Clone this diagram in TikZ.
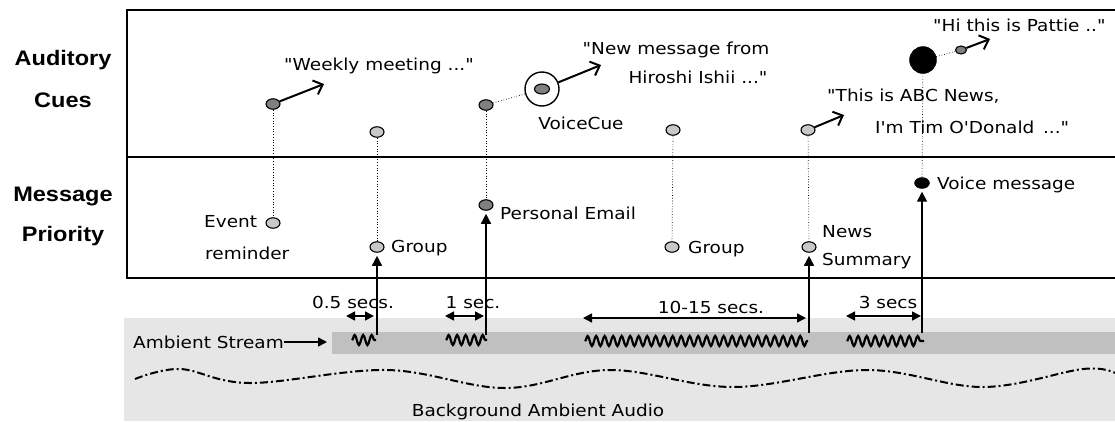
\documentclass[tikz,border=0pt]{standalone}
\usepackage{fontspec}
\setmainfont{DejaVu Sans}
\newfontfamily\comic[FakeStretch=1.12]{DejaVu Sans}
\newfontfamily\sidefont[FakeStretch=1.12]{Liberation Sans}
\usetikzlibrary{shapes.geometric,arrows.meta,decorations.pathmorphing}
\definecolor{bggray}{HTML}{E6E6E6}
\definecolor{streamgray}{HTML}{C0C0C0}
\definecolor{lightdot}{HTML}{C8C8C8}
\definecolor{darkdot}{HTML}{808080}
\begin{document}
\begin{tikzpicture}[x=1pt,y=-1pt,
  txt/.style={font=\comic\fontsize{16.5}{19}\selectfont, inner sep=0pt},
  side/.style={font=\sidefont\bfseries\fontsize{21}{24}\selectfont, inner sep=0pt},
  dotc/.style={ellipse, draw, line width=1.1pt, minimum width=14pt, minimum height=10.5pt, inner sep=0pt},
  darkc/.style={dotc, fill=darkdot},
  lightc/.style={dotc, fill=lightdot},
  cue/.style={line width=2pt, -{Straight Barb[length=8pt,width=15pt,line width=2pt]}},
  dots/.style={dotted, line width=0.7pt},
  uparrow/.style={line width=1.5pt, shorten >=3pt, -{Triangle[length=10pt,width=10pt]}},
  dur/.style={line width=1.5pt, {Triangle[length=9pt,width=9pt]}-{Triangle[length=9pt,width=9pt]}},
  wave/.style={line width=2.2pt, decorate, decoration={snake, segment length=8.5pt, amplitude=5pt}},
  boxline/.style={line width=1.8pt}
]
\useasboundingbox (0,0) rectangle (1115,421);

% background bands
\fill[bggray] (124,318) rectangle (1115,421);
\fill[streamgray] (332,332) rectangle (1115,354);

% main box
\draw[boxline] (1117,10) -- (127,10) -- (127,278) -- (1117,278);
\draw[boxline] (127,157) -- (1117,157);

% side labels
\node[side] (lab1) at (63,60) {Auditory};
\node[side] (lab2) at (63,100) {Cues};
\node[side] (lab3) at (63,196) {Message};
\node[side] (lab4) at (63,236) {Priority};

% points
\node[darkc] (e1) at (273,104) {};
\node[lightc] (e2) at (273,223) {};
\node[lightc] (g1u) at (377,132) {};
\node[lightc] (g1l) at (377,247) {};
\node[darkc] (p1u) at (486,105) {};
\node[circle, draw, line width=1.4pt, fill=white, minimum size=34pt, inner sep=0pt] (vc) at (542,89) {};
\node[darkc, minimum width=15pt, minimum height=10pt] (vci) at (542,89) {};
\node[darkc] (p1l) at (486,205) {};
\node[lightc] (g2u) at (673,130) {};
\node[lightc] (g2l) at (672,247) {};
\node[lightc] (nu) at (808,130) {};
\node[lightc] (nl) at (809,247) {};
\node[circle, draw, fill=black, minimum size=27pt, inner sep=0pt] (vu) at (923,60) {};
\node[darkc, minimum width=11pt, minimum height=8pt] (vs) at (961,50) {};
\node[ellipse, draw, fill=black, minimum width=15pt, minimum height=11pt, inner sep=0pt] (vl) at (922,183) {};

% dotted links
\draw[dots] (e1) -- (e2);
\draw[dots] (g1u) -- (g1l);
\draw[dots] (p1u) -- (p1l);
\draw[dots] (p1u) -- (vc);
\draw[dots] (g2u) -- (g2l);
\draw[dots] (nu) -- (nl);
\draw[dots] (vu) -- (vl);
\draw[dots] (vu) -- (vs);

% cue arrows
\coordinate (t1) at (324,84);
\coordinate (t2) at (601,65);
\coordinate (t3) at (844,115);
\coordinate (t4) at (990,39);
\draw[cue] (e1) -- (t1);
\draw[cue] (vc) -- (t2);
\draw[cue] (nu) -- (t3);
\draw[cue] (vs) -- (t4);

% upper texts
\node[txt] (w1) at (379,66) {"Weekly meeting ..."};
\node[txt] (w2) at (676,50) {"New message from};
\node[txt] (w3) at (698,77) {Hiroshi Ishii ..."};
\node[txt] (w4) at (581,123) {VoiceCue};
\node[txt, anchor=west] (w5) at (827,96) {"This is ABC News,};
\node[txt, anchor=west] (w6) at (875,127) {I'm Tim O'Donald \,..."};
\node[txt, anchor=west] (w7) at (933,25) {"Hi this is Pattie .."};

% lower texts
\node[txt, anchor=west] (l1) at (204,222) {Event};
\node[txt, anchor=west] (l2) at (205,253) {reminder};
\node[txt, anchor=west] (l3) at (391,248) {Group};
\node[txt, anchor=west] (l4) at (500,213) {Personal Email};
\node[txt, anchor=west] (l5) at (688,249) {Group};
\node[txt, anchor=west] (l6) at (822,232) {News};
\node[txt, anchor=west] (l7) at (822,261) {Summary};
\node[txt, anchor=west] (l8) at (937,185) {Voice message};

% ambient stream squiggles
\draw[wave] (352,340) -- (376,340);
\draw[wave] (446,340) -- (487,340);
\draw[wave] (585,341) -- (808,341);
\draw[wave] (847,341) -- (924,341);

% upward arrows
\coordinate (s1) at (377,335);
\coordinate (s2) at (486,335);
\coordinate (s3) at (809,333);
\coordinate (s4) at (922,333);
\draw[uparrow] (s1) -- (g1l);
\draw[uparrow] (s2) -- (p1l);
\draw[uparrow] (s3) -- (nl);
\draw[uparrow] (s4) -- (vl);

% duration arrows
\coordinate (d1a) at (346,316); \coordinate (d1b) at (374,316);
\coordinate (d2a) at (445,316); \coordinate (d2b) at (484,316);
\coordinate (d3a) at (583,318); \coordinate (d3b) at (806,318);
\coordinate (d4a) at (846,316); \coordinate (d4b) at (921,316);
\draw[dur] (d1a) -- (d1b);
\draw[dur] (d2a) -- (d2b);
\draw[dur] (d3a) -- (d3b);
\draw[dur] (d4a) -- (d4b);
\node[txt] (u1) at (353,302) {0.5 secs.};
\node[txt] (u2) at (473,303) {1 sec.};
\node[txt] (u3) at (711,307) {10-15 secs.};
\node[txt] (u4) at (888,302) {3 secs};

% ambient stream label
\node[txt, anchor=west] (amb) at (133,342) {Ambient Stream};
\coordinate (ambt) at (327,342);
\draw[line width=1.5pt, -{Triangle[length=9pt,width=9pt]}] (amb.east) -- (ambt);

% background ambient wave
\draw[line width=2pt, dash pattern=on 8pt off 3pt on 2pt off 3pt]
  plot[smooth, tension=0.6] coordinates {(135,379) (180,369) (250,383) (387,370) (505,388) (610,370) (733,387) (867,370) (983,387) (1083,369) (1115,373)};
\node[txt] (bga) at (538,412) {Background Ambient Audio};
\end{tikzpicture}
\end{document}
